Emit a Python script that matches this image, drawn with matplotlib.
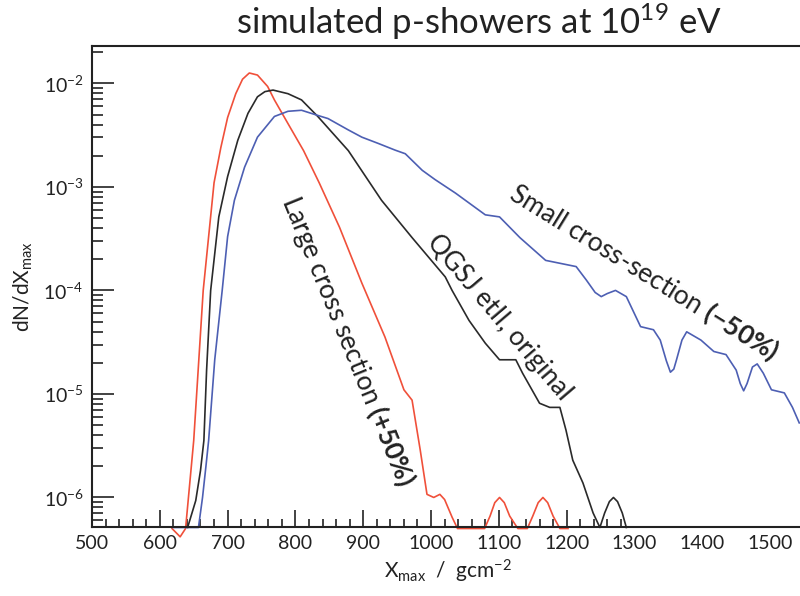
import numpy as np
import matplotlib
matplotlib.use("Agg")
import matplotlib.pyplot as plt
from matplotlib.ticker import LogLocator, MultipleLocator, FixedLocator

plt.rcParams['font.family'] = ['Lato', 'DejaVu Sans']
plt.rcParams['mathtext.fontset'] = 'custom'
plt.rcParams['mathtext.rm'] = 'Lato'
plt.rcParams['mathtext.it'] = 'Lato:italic'
plt.rcParams['mathtext.bf'] = 'Lato:bold'

# Xmax distributions (x in g/cm^2, y given as log10 of dN/dXmax)
large_x = [618, 630, 638, 650, 664, 670, 680, 690, 700, 712, 722, 732, 744, 759,
           769, 790, 812, 835, 865, 898, 932, 960, 972, 984, 994, 1004, 1013, 1020,
           1031, 1039, 1079, 1087, 1094, 1101, 1108, 1116, 1128, 1142, 1150, 1158,
           1165, 1172, 1180, 1190, 1202]
large_logy = [-6.30, -6.38, -6.30, -5.45, -4.00, -3.61, -2.96, -2.62, -2.33, -2.10,
              -1.96, -1.90, -1.92, -2.03, -2.16, -2.40, -2.65, -2.96, -3.39, -3.93,
              -4.45, -4.96, -5.06, -5.54, -5.97, -6.00, -5.97, -6.02, -6.19, -6.30,
              -6.30, -6.18, -6.05, -6.00, -6.05, -6.18, -6.30, -6.30, -6.18, -6.05,
              -6.00, -6.05, -6.18, -6.30, -6.30]

orig_x = [641, 653, 660, 665, 669, 675, 687, 700, 715, 730, 744, 755, 767, 789,
          809, 833, 878, 927, 972, 1021, 1031, 1056, 1080, 1101, 1125, 1135, 1160,
          1175, 1190, 1199, 1209, 1224, 1239, 1249, 1256, 1263, 1269, 1275, 1282,
          1288]
orig_logy = [-6.29, -6.03, -5.74, -5.45, -4.77, -4.00, -3.29, -2.90, -2.55, -2.29,
             -2.13, -2.08, -2.065, -2.10, -2.16, -2.32, -2.65, -3.13, -3.49, -3.87,
             -4.00, -4.29, -4.51, -4.67, -4.67, -4.80, -5.09, -5.13, -5.13, -5.35,
             -5.64, -5.86, -6.15, -6.29, -6.15, -6.04, -6.00, -6.04, -6.15, -6.29]

small_x = [619, 657, 663, 668, 672, 681, 692, 700, 710, 725, 744, 769, 789, 809,
           833, 848, 878, 898, 922, 947, 962, 987, 1006, 1036, 1080, 1101, 1131,
           1169, 1214, 1229, 1242, 1251, 1260, 1272, 1288, 1309, 1328, 1338, 1347,
           1353, 1358, 1362, 1370, 1377, 1398, 1417, 1435, 1450, 1456, 1461, 1466,
           1474, 1481, 1490, 1502, 1521, 1533, 1543]
small_logy = [-6.29, -6.29, -6.00, -5.70, -5.45, -4.67, -4.00, -3.48, -3.13, -2.81,
              -2.52, -2.32, -2.27, -2.26, -2.31, -2.34, -2.45, -2.52, -2.58, -2.645,
              -2.68, -2.84, -2.93, -3.06, -3.27, -3.29, -3.49, -3.71, -3.77, -3.90,
              -4.02, -4.06, -4.03, -4.00, -4.06, -4.35, -4.38, -4.48, -4.68, -4.79,
              -4.76, -4.67, -4.48, -4.40, -4.48, -4.59, -4.62, -4.77, -4.90, -4.97,
              -4.90, -4.74, -4.71, -4.80, -4.96, -4.99, -5.13, -5.28]

red = '#f0503a'
blue = '#4d5fb3'
black = '#2a2a2a'
text_col = '#222222'

fig = plt.figure(figsize=(8, 5.96), dpi=100)
ax = fig.add_axes([0.115, 0.116, 0.89, 0.807])

ax.plot(large_x, 10 ** np.array(large_logy), color=red, lw=1.2, clip_on=False)
ax.plot(orig_x, 10 ** np.array(orig_logy), color=black, lw=1.2, clip_on=False)
ax.plot(small_x, 10 ** np.array(small_logy), color=blue, lw=1.2, clip_on=False)

ax.set_yscale('log')
ax.set_xlim(500, 1550)
ax.set_ylim(5.2e-7, 2.3e-2)

ax.xaxis.set_major_locator(MultipleLocator(100))
minor_x = [v for v in range(520, 1300, 20) if v % 100]
ax.xaxis.set_minor_locator(FixedLocator(minor_x))
ax.yaxis.set_major_locator(LogLocator(base=10))
ax.yaxis.set_minor_locator(LogLocator(base=10, subs=np.arange(2, 10)))

ax.tick_params(axis='both', which='both', direction='in', top=False, right=False,
               colors=text_col, labelsize=14, width=1.2)
ax.tick_params(axis='y', which='major', length=16, pad=6)
ax.tick_params(axis='y', which='minor', length=8)
ax.tick_params(axis='x', which='major', length=12, pad=6)
ax.tick_params(axis='x', which='minor', length=6)

# the tick marks stop after 1300; labels carry on
fig.canvas.draw()
for tick in ax.xaxis.get_major_ticks():
    if tick.get_loc() > 1290:
        tick.tick1line.set_visible(False)

for side in ['left', 'bottom', 'top']:
    ax.spines[side].set_linewidth(1.5)
    ax.spines[side].set_color(text_col)
ax.spines['right'].set_visible(False)

ax.set_xlabel(r'X$_{\rm max}$  /  gcm$^{-2}$', fontsize=15, color=text_col)
ax.set_ylabel(r'dN/dX$_{\rm max}$', fontsize=15, color=text_col, labelpad=6)
fig.text(0.598, 0.963, r'simulated p-showers at 10$^{19}$ eV', fontsize=25,
         ha='center', va='center', color=text_col)

ax.text(878, 10 ** -4.49, r'Large cross section $\mathbf{(+50\%)}$', rotation=-67.8,
        rotation_mode='anchor', ha='center', va='center', fontsize=19, color=text_col)
ax.text(1101, 10 ** -4.26, 'QGSJ etII, original', rotation=-49.6,
        rotation_mode='anchor', ha='center', va='center', fontsize=19, color=text_col)
ax.text(1315, 10 ** -3.82, r'Small cross-section $\mathbf{(-50\%)}$', rotation=-31.7,
        rotation_mode='anchor', ha='center', va='center', fontsize=19, color=text_col)

fig.savefig('out.png', dpi=100)
